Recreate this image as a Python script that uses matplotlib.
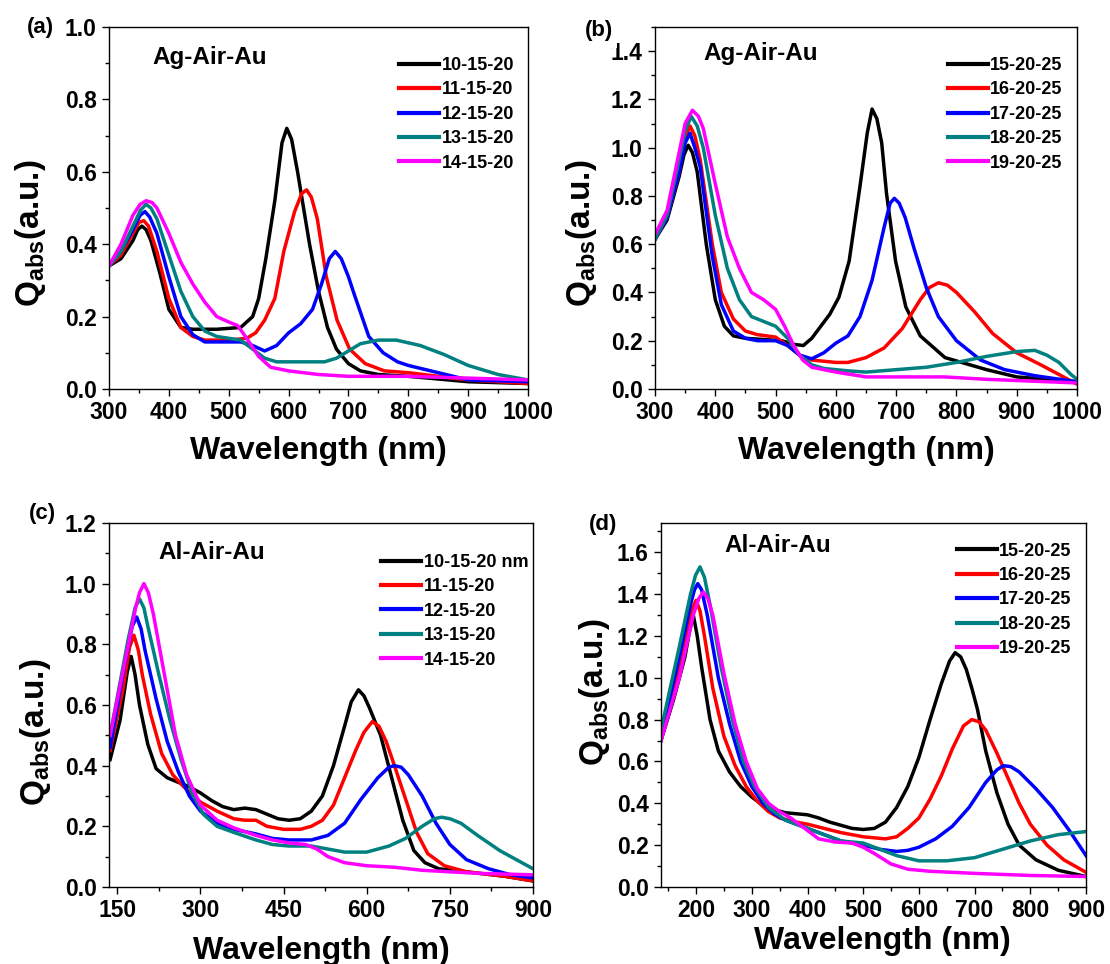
import matplotlib
matplotlib.use("Agg")
import matplotlib.pyplot as plt
from matplotlib.ticker import MultipleLocator
from matplotlib.patches import Rectangle

plt.rcParams['font.family'] = ['Liberation Sans', 'DejaVu Sans']
plt.rcParams['font.weight'] = 'bold'
plt.rcParams['mathtext.fontset'] = 'custom'
plt.rcParams['mathtext.rm'] = 'Liberation Sans:bold'
plt.rcParams['mathtext.bf'] = 'Liberation Sans:bold'
plt.rcParams['mathtext.it'] = 'Liberation Sans:bold'

colors = ['#000000', '#FF0000', '#0000FF', '#008080', '#FF00FF']

# ---------------- Panel (a): Ag-Air-Au, 10..14-15-20 ----------------
a_labels = ['10-15-20', '11-15-20', '12-15-20', '13-15-20', '14-15-20']
a_x0 = [300, 320, 340, 348, 355, 362, 370, 385, 400, 420, 440, 480, 520, 540, 550, 562, 577, 589, 597, 605, 615, 625, 635, 650, 665, 680, 700, 720, 750, 800, 900, 1000]
a_y0 = [0.34, 0.36, 0.41, 0.44, 0.45, 0.44, 0.41, 0.32, 0.22, 0.17, 0.165, 0.165, 0.17, 0.20, 0.25, 0.36, 0.52, 0.68, 0.72, 0.69, 0.60, 0.50, 0.40, 0.27, 0.17, 0.11, 0.07, 0.05, 0.04, 0.035, 0.02, 0.015]
a_x1 = [300, 320, 340, 350, 358, 366, 380, 400, 420, 440, 460, 500, 530, 545, 560, 577, 592, 610, 622, 630, 638, 648, 663, 681, 702, 728, 760, 800, 900, 1000]
a_y1 = [0.34, 0.37, 0.43, 0.46, 0.465, 0.45, 0.38, 0.25, 0.17, 0.145, 0.135, 0.135, 0.14, 0.155, 0.19, 0.25, 0.38, 0.49, 0.54, 0.55, 0.53, 0.47, 0.31, 0.19, 0.11, 0.07, 0.05, 0.045, 0.025, 0.015]
a_x2 = [300, 320, 340, 352, 360, 368, 380, 400, 420, 440, 460, 500, 520, 540, 560, 580, 600, 620, 640, 655, 668, 678, 688, 700, 710, 734, 758, 782, 800, 850, 900, 1000]
a_y2 = [0.34, 0.38, 0.44, 0.48, 0.49, 0.475, 0.43, 0.31, 0.20, 0.15, 0.13, 0.13, 0.13, 0.12, 0.105, 0.12, 0.155, 0.18, 0.22, 0.29, 0.36, 0.38, 0.36, 0.31, 0.26, 0.145, 0.10, 0.075, 0.065, 0.045, 0.025, 0.02]
a_x3 = [300, 320, 340, 353, 362, 370, 380, 400, 420, 440, 460, 480, 500, 520, 540, 560, 580, 620, 660, 680, 700, 720, 750, 780, 820, 860, 900, 950, 1000]
a_y3 = [0.34, 0.38, 0.45, 0.495, 0.51, 0.50, 0.47, 0.37, 0.27, 0.20, 0.16, 0.145, 0.14, 0.135, 0.11, 0.085, 0.075, 0.075, 0.075, 0.085, 0.105, 0.125, 0.135, 0.135, 0.12, 0.095, 0.065, 0.04, 0.025]
a_x4 = [300, 320, 340, 352, 362, 372, 380, 400, 420, 440, 460, 480, 500, 515, 530, 550, 570, 600, 650, 700, 800, 900, 1000]
a_y4 = [0.34, 0.40, 0.48, 0.51, 0.52, 0.515, 0.50, 0.43, 0.35, 0.29, 0.24, 0.20, 0.185, 0.175, 0.14, 0.09, 0.06, 0.05, 0.04, 0.035, 0.035, 0.03, 0.025]

# ---------------- Panel (b): Ag-Air-Au, 15..19-20-25 ----------------
b_labels = ['15-20-25', '16-20-25', '17-20-25', '18-20-25', '19-20-25']
b_x0 = [300, 320, 340, 348, 355, 362, 370, 385, 400, 415, 430, 450, 480, 510, 530, 546, 560, 575, 590, 605, 622, 640, 652, 660, 668, 676, 684, 699, 716, 740, 781, 850, 900, 1000]
b_y0 = [0.62, 0.70, 0.88, 0.97, 1.01, 0.98, 0.90, 0.60, 0.37, 0.26, 0.22, 0.21, 0.205, 0.20, 0.185, 0.18, 0.21, 0.26, 0.31, 0.38, 0.53, 0.84, 1.06, 1.16, 1.12, 1.02, 0.81, 0.53, 0.34, 0.22, 0.13, 0.08, 0.05, 0.03]
b_x1 = [300, 320, 340, 348, 358, 366, 375, 395, 410, 430, 450, 470, 500, 520, 540, 560, 600, 620, 650, 680, 710, 740, 755, 770, 785, 800, 830, 860, 900, 940, 970, 1000]
b_y1 = [0.62, 0.71, 0.90, 1.03, 1.09, 1.05, 0.95, 0.60, 0.40, 0.29, 0.24, 0.225, 0.215, 0.18, 0.14, 0.12, 0.11, 0.11, 0.13, 0.17, 0.25, 0.37, 0.42, 0.44, 0.43, 0.40, 0.32, 0.23, 0.15, 0.10, 0.06, 0.02]
b_x2 = [300, 320, 340, 350, 358, 366, 375, 395, 410, 430, 450, 470, 500, 520, 540, 560, 580, 600, 620, 640, 660, 670, 680, 690, 697, 705, 715, 730, 750, 770, 800, 840, 880, 930, 1000]
b_y2 = [0.62, 0.71, 0.90, 1.02, 1.06, 1.00, 0.92, 0.55, 0.35, 0.24, 0.21, 0.20, 0.20, 0.18, 0.14, 0.125, 0.15, 0.19, 0.22, 0.30, 0.45, 0.56, 0.67, 0.77, 0.79, 0.77, 0.71, 0.58, 0.42, 0.30, 0.20, 0.12, 0.08, 0.055, 0.03]
b_x3 = [300, 320, 340, 350, 360, 370, 380, 400, 420, 440, 460, 480, 500, 520, 540, 560, 580, 620, 650, 700, 750, 800, 850, 900, 930, 950, 970, 990, 1000]
b_y3 = [0.62, 0.72, 0.95, 1.07, 1.13, 1.09, 1.00, 0.72, 0.50, 0.37, 0.30, 0.28, 0.26, 0.21, 0.14, 0.10, 0.085, 0.075, 0.07, 0.08, 0.09, 0.11, 0.135, 0.155, 0.16, 0.14, 0.11, 0.06, 0.04]
b_x4 = [300, 320, 340, 350, 362, 372, 380, 400, 420, 440, 460, 480, 500, 515, 530, 545, 560, 600, 650, 700, 780, 850, 1000]
b_y4 = [0.64, 0.74, 0.98, 1.10, 1.155, 1.13, 1.08, 0.85, 0.63, 0.50, 0.40, 0.37, 0.33, 0.26, 0.18, 0.12, 0.09, 0.07, 0.05, 0.05, 0.05, 0.04, 0.025]

# ---------------- Panel (c): Al-Air-Au, 10..14-15-20 ----------------
c_labels = ['10-15-20 nm', '11-15-20', '12-15-20', '13-15-20', '14-15-20']
c_x0 = [137, 155, 168, 175, 182, 190, 205, 220, 240, 260, 280, 300, 320, 340, 360, 380, 400, 420, 440, 460, 480, 500, 520, 540, 560, 572, 585, 595, 605, 625, 645, 665, 685, 705, 730, 780, 850, 900]
c_y0 = [0.42, 0.55, 0.71, 0.76, 0.70, 0.60, 0.47, 0.39, 0.36, 0.345, 0.33, 0.31, 0.285, 0.265, 0.255, 0.26, 0.255, 0.24, 0.225, 0.22, 0.225, 0.25, 0.30, 0.40, 0.53, 0.61, 0.65, 0.63, 0.59, 0.50, 0.36, 0.22, 0.12, 0.08, 0.06, 0.05, 0.035, 0.02]
c_x1 = [137, 160, 172, 180, 188, 195, 210, 230, 250, 270, 300, 330, 360, 380, 400, 420, 450, 480, 500, 520, 540, 560, 580, 595, 610, 622, 635, 650, 670, 690, 710, 740, 780, 850, 900]
c_y1 = [0.45, 0.65, 0.79, 0.83, 0.78, 0.70, 0.57, 0.44, 0.37, 0.33, 0.28, 0.25, 0.225, 0.22, 0.22, 0.20, 0.19, 0.19, 0.20, 0.22, 0.27, 0.36, 0.45, 0.51, 0.545, 0.53, 0.48, 0.40, 0.29, 0.18, 0.11, 0.07, 0.05, 0.035, 0.02]
c_x2 = [137, 165, 177, 185, 193, 200, 220, 240, 260, 280, 300, 330, 360, 400, 430, 460, 500, 530, 560, 590, 620, 640, 650, 662, 675, 700, 725, 750, 780, 820, 860, 900]
c_y2 = [0.46, 0.75, 0.86, 0.89, 0.85, 0.78, 0.62, 0.48, 0.38, 0.30, 0.25, 0.21, 0.19, 0.175, 0.16, 0.155, 0.155, 0.17, 0.21, 0.29, 0.36, 0.395, 0.40, 0.395, 0.37, 0.30, 0.21, 0.14, 0.09, 0.06, 0.04, 0.03]
c_x3 = [137, 170, 182, 190, 198, 205, 225, 245, 265, 285, 305, 330, 360, 400, 430, 460, 500, 530, 560, 600, 640, 670, 700, 722, 735, 750, 770, 800, 840, 870, 900]
c_y3 = [0.50, 0.82, 0.92, 0.95, 0.92, 0.86, 0.70, 0.55, 0.42, 0.31, 0.24, 0.20, 0.18, 0.155, 0.14, 0.135, 0.135, 0.125, 0.115, 0.115, 0.135, 0.16, 0.20, 0.225, 0.23, 0.225, 0.21, 0.17, 0.12, 0.09, 0.06]
c_x4 = [137, 170, 183, 190, 198, 206, 215, 235, 255, 275, 300, 330, 360, 400, 430, 460, 490, 510, 530, 560, 600, 650, 700, 800, 900]
c_y4 = [0.50, 0.80, 0.92, 0.97, 1.00, 0.97, 0.90, 0.70, 0.50, 0.37, 0.27, 0.22, 0.195, 0.17, 0.155, 0.145, 0.14, 0.125, 0.10, 0.08, 0.07, 0.065, 0.055, 0.045, 0.04]

# ---------------- Panel (d): Al-Air-Au, 15..19-20-25 ----------------
d_labels = ['15-20-25', '16-20-25', '17-20-25', '18-20-25', '19-20-25']
d_x0 = [137, 160, 180, 188, 195, 202, 210, 225, 240, 260, 280, 300, 320, 340, 360, 380, 400, 420, 440, 460, 480, 500, 520, 540, 560, 580, 600, 620, 640, 655, 665, 675, 685, 695, 705, 720, 740, 760, 780, 810, 850, 900]
d_y0 = [0.70, 0.90, 1.10, 1.22, 1.30, 1.20, 1.05, 0.80, 0.65, 0.55, 0.48, 0.43, 0.39, 0.37, 0.355, 0.35, 0.345, 0.33, 0.31, 0.295, 0.28, 0.275, 0.28, 0.31, 0.38, 0.48, 0.62, 0.80, 0.97, 1.08, 1.12, 1.10, 1.04, 0.95, 0.85, 0.65, 0.45, 0.30, 0.20, 0.13, 0.08, 0.05]
d_x1 = [137, 165, 185, 193, 200, 207, 215, 230, 250, 270, 290, 310, 330, 350, 380, 400, 430, 460, 500, 540, 560, 580, 600, 620, 640, 660, 680, 695, 708, 720, 740, 760, 780, 800, 830, 860, 900]
d_y1 = [0.70, 1.00, 1.25, 1.33, 1.37, 1.32, 1.20, 0.95, 0.72, 0.58, 0.48, 0.41, 0.36, 0.33, 0.31, 0.30, 0.28, 0.26, 0.24, 0.23, 0.24, 0.28, 0.33, 0.42, 0.53, 0.66, 0.77, 0.80, 0.79, 0.75, 0.64, 0.52, 0.40, 0.30, 0.20, 0.13, 0.07]
d_x2 = [137, 170, 190, 197, 203, 210, 220, 240, 260, 280, 300, 320, 340, 360, 400, 430, 460, 500, 530, 560, 580, 600, 630, 660, 690, 720, 740, 752, 765, 780, 810, 840, 870, 900]
d_y2 = [0.72, 1.10, 1.35, 1.42, 1.45, 1.42, 1.30, 1.00, 0.78, 0.60, 0.48, 0.40, 0.35, 0.32, 0.28, 0.25, 0.22, 0.20, 0.18, 0.17, 0.175, 0.19, 0.23, 0.29, 0.38, 0.50, 0.56, 0.58, 0.575, 0.55, 0.47, 0.38, 0.27, 0.15]
d_x3 = [137, 170, 190, 199, 207, 215, 225, 245, 265, 285, 305, 330, 360, 400, 430, 460, 500, 530, 560, 600, 650, 700, 750, 800, 850, 900]
d_y3 = [0.75, 1.15, 1.40, 1.49, 1.53, 1.48, 1.35, 1.05, 0.80, 0.60, 0.48, 0.38, 0.32, 0.28, 0.25, 0.22, 0.21, 0.18, 0.15, 0.125, 0.125, 0.14, 0.18, 0.22, 0.25, 0.265]
d_x4 = [137, 170, 195, 205, 213, 221, 230, 250, 270, 290, 310, 330, 350, 370, 400, 420, 450, 480, 500, 520, 550, 580, 620, 700, 800, 900]
d_y4 = [0.70, 1.00, 1.30, 1.38, 1.41, 1.38, 1.30, 1.02, 0.78, 0.60, 0.47, 0.40, 0.36, 0.33, 0.27, 0.23, 0.215, 0.21, 0.19, 0.16, 0.11, 0.085, 0.075, 0.065, 0.055, 0.05]

panels = [
    dict(rect=[0.0982, 0.5965, 0.3775, 0.3755], labels=a_labels,
         xs=[a_x0, a_x1, a_x2, a_x3, a_x4], ys=[a_y0, a_y1, a_y2, a_y3, a_y4],
         xlim=(300, 1000), ylim=(0, 1.0), xmaj=100, ymaj=0.2, ymin=0.1,
         tag='(a)', tagxy=(27, 17), title='Ag-Air-Au', titlexy=(0.103, 0.917),
         leg=(0.692, 0.917), ylab=(-0.146, 0.43), xlab=(0.5, -0.13)),
    dict(rect=[0.5901, 0.5965, 0.3802, 0.3755], labels=b_labels,
         xs=[b_x0, b_x1, b_x2, b_x3, b_x4], ys=[b_y0, b_y1, b_y2, b_y3, b_y4],
         xlim=(300, 1000), ylim=(0, 1.5), xmaj=100, ymaj=0.2, ymin=0.1,
         tag='(b)', tagxy=(585, 20), title='Ag-Air-Au', titlexy=(0.114, 0.928),
         leg=(0.694, 0.917), ylab=(-0.133, 0.43), xlab=(0.5, -0.13)),
    dict(rect=[0.0982, 0.0799, 0.3820, 0.3776], labels=c_labels,
         xs=[c_x0, c_x1, c_x2, c_x3, c_x4], ys=[c_y0, c_y1, c_y2, c_y3, c_y4],
         xlim=(135, 900), ylim=(0, 1.2), xmaj=150, ymaj=0.2, ymin=0.1,
         tag='(c)', tagxy=(29, 503), title='Al-Air-Au', titlexy=(0.116, 0.918),
         leg=(0.642, 0.915), ylab=(-0.132, 0.426), xlab=(0.502, -0.135)),
    dict(rect=[0.5955, 0.0799, 0.3829, 0.3776], labels=d_labels,
         xs=[d_x0, d_x1, d_x2, d_x3, d_x4], ys=[d_y0, d_y1, d_y2, d_y3, d_y4],
         xlim=(137, 900), ylim=(0, 1.74), xmaj=100, ymaj=0.2, ymin=0.1,
         tag='(d)', tagxy=(589, 514), title='Al-Air-Au', titlexy=(0.15, 0.937),
         leg=(0.696, 0.946), ylab=(-0.115, 0.536), xlab=(0.52, -0.107)),
]

W, H = 1110, 964
fig = plt.figure(figsize=(W / 100, H / 100), dpi=100)

for p in panels:
    ax = fig.add_axes(p['rect'])
    for xs, ys, c, lab in zip(p['xs'], p['ys'], colors, p['labels']):
        ax.plot(xs, ys, color=c, lw=2.5, label=lab, solid_joinstyle='round')
    ax.set_xlim(*p['xlim'])
    ax.set_ylim(*p['ylim'])
    ax.xaxis.set_major_locator(MultipleLocator(p['xmaj']))
    ax.xaxis.set_minor_locator(MultipleLocator(p['xmaj'] / 2))
    ax.yaxis.set_major_locator(MultipleLocator(p['ymaj']))
    ax.yaxis.set_minor_locator(MultipleLocator(p['ymin']))
    ax.yaxis.set_major_formatter(plt.FuncFormatter(lambda v, pos: f'{v:.1f}'))
    ax.tick_params(which='major', direction='out', length=5, width=1.0, pad=4,
                   labelsize=16.5, top=False, right=False)
    ax.tick_params(which='minor', direction='out', length=3, width=1.0,
                   top=False, right=False)
    for lbl in ax.get_xticklabels() + ax.get_yticklabels():
        lbl.set_fontweight('bold')
    for s in ax.spines.values():
        s.set_linewidth(1.0)
    ax.set_xlabel('Wavelength (nm)', fontsize=23, fontweight='bold')
    ax.set_ylabel(r'$\mathbf{Q}_{\mathbf{abs}}$(a.u.)', fontsize=24, fontweight='bold')
    ax.yaxis.set_label_coords(*p['ylab'])
    ax.xaxis.set_label_coords(*p['xlab'])
    ax.text(p['titlexy'][0], p['titlexy'][1], p['title'], transform=ax.transAxes,
            fontsize=17.5, fontweight='bold', ha='left', va='center')
    leg = ax.legend(loc='upper left', bbox_to_anchor=(p['leg'][0], p['leg'][1]),
                    frameon=False, handlelength=2.2, handletextpad=0.15,
                    labelspacing=0.41, borderaxespad=0, borderpad=0,
                    prop={'weight': 'bold', 'size': 13})
    for h in leg.get_lines():
        h.set_linewidth(3.0)
    fig.text(p['tagxy'][0] / W, 1 - p['tagxy'][1] / H, p['tag'], fontsize=16,
             fontweight='bold', ha='left', va='top', zorder=6)

# white patch partly hiding the "1" of the top tick label in panel (b), as in the original
fig.patches.append(Rectangle((603 / W, 1 - 48 / H), 14 / W, 30 / H, transform=fig.transFigure,
                             facecolor='white', edgecolor='none', zorder=5))

fig.savefig('out.png', dpi=100)
